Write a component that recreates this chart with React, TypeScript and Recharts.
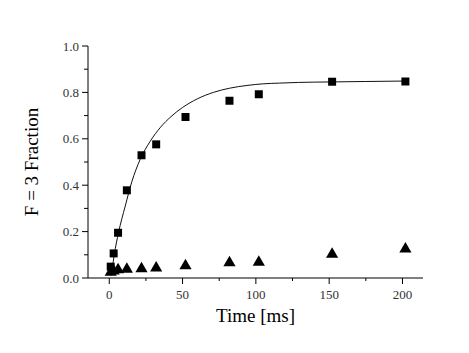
import React from 'react';
import { ComposedChart, Line, Scatter, XAxis, YAxis } from 'recharts';

// measured points (time in ms)
const squareTimes = [1, 3, 6, 12, 22, 32, 52, 82, 102, 152, 202];
const squareValues = [0.049, 0.106, 0.195, 0.378, 0.529, 0.576, 0.694, 0.764, 0.792, 0.846, 0.847];

const triangleTimes = [1, 3, 6, 12, 22, 32, 52, 82, 102, 152, 202];
const triangleValues = [0.025, 0.03, 0.036, 0.038, 0.04, 0.043, 0.053, 0.066, 0.068, 0.102, 0.125];

// fitted curve
const fitTimes = [1.2, 2, 3.4, 6.3, 10.9, 15.4, 21, 28, 35, 42, 50, 60, 71, 82, 94, 105, 116, 129, 150, 175, 202];
const fitValues = [0.01, 0.04, 0.1, 0.195, 0.31, 0.415, 0.51, 0.59, 0.65, 0.695, 0.735, 0.772, 0.8, 0.818, 0.83, 0.837, 0.84, 0.843, 0.845, 0.847, 0.849];

const xTicks = [0, 25, 50, 75, 100, 125, 150, 175, 200];
const yTicks = [0, 0.1, 0.2, 0.3, 0.4, 0.5, 0.6, 0.7, 0.8, 0.9, 1.0];

const squares = squareTimes.map((t, i) => ({ t, v: squareValues[i] }));
const triangles = triangleTimes.map((t, i) => ({ t, v: triangleValues[i] }));
const fit = fitTimes.map((t, i) => ({ t, v: fitValues[i] }));

const serif = '"Liberation Serif", "Times New Roman", serif';
const labelColor = '#333';
const tickText = { fontFamily: serif, fontSize: 13 };

const isMajorX = (v: number) => Math.round(v) % 50 === 0;
const isMajorY = (v: number) => Math.round(v * 10) % 2 === 0;

const BottomTick = (props: any) => {
  const { x, y, payload } = props;
  const major = isMajorX(payload.value);
  return (
    <g>
      <line x1={x} x2={x} y1={y} y2={y + (major ? 6 : 3)} stroke="#000" />
      {major && (
        <text x={x} y={y + 21} textAnchor="middle" style={tickText} fill={labelColor}>
          {payload.value}
        </text>
      )}
    </g>
  );
};

const TopTick = (props: any) => {
  const { x, y, payload } = props;
  const major = isMajorX(payload.value);
  return <line x1={x} x2={x} y1={y} y2={y + (major ? 5 : 3)} stroke="#000" />;
};

const LeftTick = (props: any) => {
  const { x, y, payload } = props;
  const major = isMajorY(payload.value);
  return (
    <g>
      <line x1={x} x2={x - (major ? 6 : 4)} y1={y} y2={y} stroke="#000" />
      {major && (
        <text x={x - 9} y={y + 4.5} textAnchor="end" style={tickText} fill={labelColor}>
          {payload.value.toFixed(1)}
        </text>
      )}
    </g>
  );
};

const RightTick = (props: any) => {
  const { x, y, payload } = props;
  const major = isMajorY(payload.value);
  return <line x1={x} x2={x - (major ? 5 : 3)} y1={y} y2={y} stroke="#000" />;
};

export default function App() {
  return (
    <div style={{ position: 'absolute', left: 0, top: 0, width: 469, height: 353, background: '#fff' }}>
      <ComposedChart width={469} height={353} margin={{ top: 46, right: 46, bottom: 0, left: 0 }}>
        <XAxis
          dataKey="t"
          type="number"
          domain={[-14.5, 214]}
          allowDataOverflow
          ticks={xTicks}
          interval={0}
          height={75}
          tickSize={0}
          tickMargin={0}
          tick={<BottomTick />}
          tickLine={false}
          axisLine={{ stroke: '#000' }}
          label={{ value: 'Time [ms]', position: 'insideBottom', offset: 31, style: { fontSize: 19, fontFamily: serif }, fill: '#000' }}
        />
        <XAxis
          xAxisId="top"
          orientation="top"
          dataKey="t"
          type="number"
          domain={[-14.5, 214]}
          allowDataOverflow
          ticks={xTicks}
          interval={0}
          height={0}
          tickSize={0}
          tickMargin={0}
          tick={<TopTick />}
          tickLine={false}
          axisLine={{ stroke: '#000' }}
        />
        <YAxis
          dataKey="v"
          type="number"
          domain={[0, 1]}
          allowDataOverflow
          ticks={yTicks}
          interval={0}
          width={88}
          tickSize={0}
          tickMargin={0}
          tick={<LeftTick />}
          tickLine={false}
          axisLine={{ stroke: '#000' }}
          label={{ value: 'F = 3 Fraction', angle: -90, position: 'insideLeft', offset: 31, fill: '#000', style: { textAnchor: 'middle', fontSize: 19, fontFamily: serif } }}
        />
        <YAxis
          yAxisId="right"
          orientation="right"
          dataKey="v"
          type="number"
          domain={[0, 1]}
          allowDataOverflow
          ticks={yTicks}
          interval={0}
          width={0}
          tickSize={0}
          tickMargin={0}
          tick={<RightTick />}
          tickLine={false}
          axisLine={{ stroke: '#000' }}
        />
        <Line
          data={fit}
          dataKey="v"
          type="monotone"
          stroke="#111"
          strokeWidth={1}
          dot={false}
          activeDot={false}
          isAnimationActive={false}
        />
        <Scatter data={triangles} dataKey="v" fill="#000" shape="triangle" isAnimationActive={false} size={45} />
        <Scatter data={squares} dataKey="v" fill="#000" shape="square" isAnimationActive={false} size={49} />
      </ComposedChart>
    </div>
  );
}
